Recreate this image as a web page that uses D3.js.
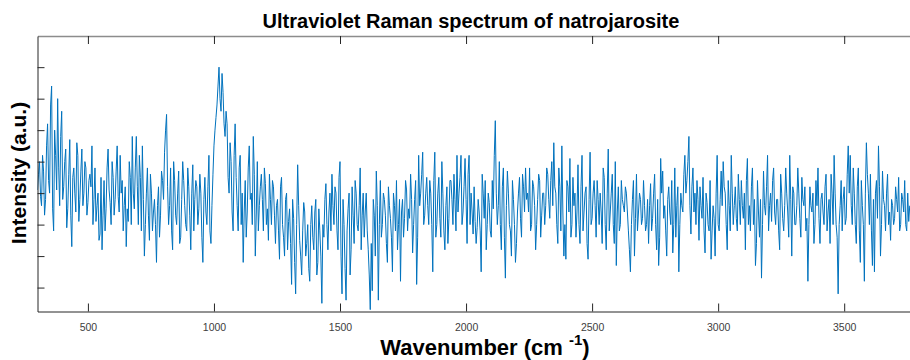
<!DOCTYPE html>
<html>
<head>
<meta charset="utf-8">
<script src="https://cdn.jsdelivr.net/npm/d3@7"></script>
<style>
  body { margin: 0; background: #fff; }
  svg { display: block; font-family: "Liberation Sans", Arial, sans-serif; }
</style>
</head>
<body>
<svg id="chart" width="910" height="360"></svg>
<script>
// each band has its samples on the 8 cm-1 grid and the ones half a step later.
var wnStart = 300, wnStep = 8;

var band300 = [41,50,36,47,38,62,40,74,28,52,70,36,66,42,54,35,57,23,48,34,52,38,54,40,48,37,46,55,38,31,40,27,22,44,35,54,37,50,33,47,39,52,44,36,23,31,45,58,35];
var band300b = [46,39,52,33,55,44,68,35,60,41,48,58,38,50,29,46,33,45,40,56,31,47,36,50,33,44,42,30,48,36,25,45,33,28,48,41,30,45,38,55,34,40,28,42,35,50,30,40,48];
var band692 = [58,30,45,55,20,40,33,46,28,38,18,42,33,44,53,65,30,48,22,44,30,47,26,50,36,28,42,22,49,38,42,35,40,18,45,30,52,24,46,60,68,80,66,72,58,62,40,50,28];
var band692b = [42,52,28,38,30,48,25,40,34,30,36,26,47,38,60,42,36,28,50,33,40,24,38,44,30,48,33,40,28,44,30,46,26,38,34,42,28,36,55,64,74,70,78,62,66,45,56,34,52];
var band1084 = [62,36,48,30,18,44,34,55,40,58,20,50,36,46,28,43,35,46,30,42,24,38,19,45,26,38,22,35,11,32,8,49,25,14,37,20,30,12,36,22,38,18,28,5,26,43,22,40];
var band1084b = [45,28,52,40,34,26,48,38,30,46,34,28,42,38,48,30,25,38,44,33,36,28,42,30,20,40,31,24,38,18,30,36,20,28,34,24,16,30,26,34,14,35,20,30,38,30,34,28];
var band1468 = [46,30,40,22,50,8,30,6,35,14,42,24,40,28,48,33,26,40,22,3,9,33,47,6,44,30,38,24,42,32,15,36,44,30,12,38,32,41,35,46,21,38,11,52,40,53,33,45,30];
var band1468b = [36,42,28,45,20,38,16,28,40,22,33,44,30,36,22,40,34,28,14,24,38,20,36,30,26,40,33,18,36,26,40,28,22,38,34,26,44,28,32,38,30,44,26,36,46,30,40,36,44];
var band1860 = [40,15,53,30,45,26,40,22,42,32,44,30,38,52,40,52,34,51,24,52,40,27,31,29,34,15,40,44,30,37,26,35,63,30,50,22,48,13,47,30,20,38,18,34,45,26,42,48];
var band1860b = [30,44,26,40,32,50,28,36,24,44,38,46,28,34,45,30,42,38,46,30,34,42,24,38,28,46,32,22,40,28,44,52,40,36,30,42,26,36,40,28,44,30,24,40,32,46,34,38];
var band2244 = [40,48,30,42,22,38,44,33,40,36,46,32,50,56,40,24,42,55,20,19,42,51,30,36,26,49,24,52,34,42,19,53,32,44,26,38,40,24,45,22,54,34,46,24,17,42,30,38,34];
var band2244b = [34,28,44,36,30,46,26,40,30,48,38,44,36,42,30,48,28,34,30,44,34,26,45,40,34,30,42,28,40,24,38,30,40,36,44,30,34,48,30,40,28,40,30,50,34,28,44,36,42];
var band2636 = [40,28,15,38,20,46,34,38,32,36,30,24,43,32,46,22,17,51,47,36,20,42,30,21,48,36,15,40,34,52,44,58,27,48,40,44,25,36,45,21,37,28,19,36,20,52,28,47,50];
var band2636b = [34,22,30,44,32,28,40,30,44,28,38,36,28,40,30,38,26,40,32,28,38,34,44,30,26,42,30,36,46,40,50,36,42,34,30,38,42,32,28,40,30,44,28,32,40,30,38,36,42];
var band3028 = [40,22,36,52,30,42,28,38,44,32,22,51,36,42,30,17,44,26,13,47,33,52,36,31,48,30,38,22,40,28,48,34,52,20,40,30,48,32,45,36,28,12,42,34,24,44,48,24];
var band3028b = [30,44,28,40,36,32,46,30,36,40,44,30,28,48,38,24,34,38,30,36,42,28,40,44,34,38,28,46,32,36,40,26,38,42,30,36,40,26,38,42,32,30,36,40,30,36,32,38];
var band3412 = [40,30,46,34,24,40,52,30,8,36,28,42,32,55,52,30,40,24,48,18,36,12,56,40,46,17,15,44,55,20,47,36,40,30,25,36,32,38,45,30,38,44,28,31];
var band3412b = [34,42,28,38,46,30,40,26,30,44,38,30,46,40,36,48,30,42,28,44,30,40,46,30,28,38,40,32,42,30,38,28,46,34,38,30,42,34,28,40,34,30,40,36];

var xTicks = [500, 1000, 1500, 2000, 2500, 3000, 3500];
var yTicks = [10, 20, 30, 40, 50, 60, 70, 80];

var onGrid = [].concat(band300, band692, band1084, band1468, band1860, band2244, band2636, band3028, band3412);
var halfStep = [].concat(band300b, band692b, band1084b, band1468b, band1860b, band2244b, band2636b, band3028b, band3412b);

var spectrum = [];
onGrid.forEach(function(v, i){
  spectrum.push({wn: wnStart + i * wnStep, v: v});
  spectrum.push({wn: wnStart + i * wnStep + wnStep / 2, v: halfStep[i]});
});

var svg = d3.select('#chart');
var plotLeft = 37.5, plotRight = 911, plotTop = 36, plotBottom = 311.5;

var x = d3.scaleLinear().domain([300, 3765]).range([plotLeft, plotRight]);
var y = d3.scaleLinear().domain([2.4, 89.9]).range([plotBottom, plotTop]);

svg.append('clipPath').attr('id', 'plotclip')
   .append('rect').attr('x', plotLeft).attr('y', plotTop)
   .attr('width', plotRight - plotLeft).attr('height', plotBottom - plotTop);

// the trace
var line = d3.line().x(function(d){ return x(d.wn); }).y(function(d){ return y(d.v); });
svg.append('path')
   .datum(spectrum)
   .attr('clip-path', 'url(#plotclip)')
   .attr('d', line)
   .attr('fill', 'none')
   .attr('stroke', '#0072BD')
   .attr('stroke-width', 1)
   .attr('stroke-linejoin', 'miter');

// axes, matlab style: ticks pointing inward, box all round
var axisColor = '#262626';

var gBottom = svg.append('g').attr('transform', 'translate(0,' + plotBottom + ')')
   .call(d3.axisBottom(x).tickValues(xTicks).tickSizeInner(-8).tickSizeOuter(0).tickPadding(12).tickFormat(d3.format('d')));
var gTop = svg.append('g').attr('transform', 'translate(0,' + plotTop + ')')
   .call(d3.axisTop(x).tickValues(xTicks).tickSizeInner(-8).tickSizeOuter(0).tickFormat(''));
var gLeft = svg.append('g').attr('transform', 'translate(' + plotLeft + ',0)')
   .call(d3.axisLeft(y).tickValues(yTicks).tickSizeInner(-7).tickSizeOuter(0).tickFormat(''));

[gBottom, gTop, gLeft].forEach(function(g){
  g.selectAll('.domain').attr('stroke', axisColor);
  g.selectAll('.tick line').attr('stroke', axisColor);
});
gTop.selectAll('.domain').attr('stroke', '#8c8c8c').attr('stroke-width', 1.5);
gBottom.selectAll('.tick text')
   .attr('fill', '#404040')
   .attr('font-size', '10.5px');

// title and labels
svg.append('text')
   .attr('x', 471).attr('y', 28)
   .attr('text-anchor', 'middle')
   .attr('font-size', '20px').attr('font-weight', 'bold')
   .attr('fill', '#000')
   .text('Ultraviolet Raman spectrum of natrojarosite');

var xl = svg.append('text')
   .attr('x', 485).attr('y', 355)
   .attr('text-anchor', 'middle')
   .attr('font-size', '22px').attr('font-weight', 'bold')
   .attr('fill', '#000');
xl.append('tspan').text('Wavenumber (cm ');
xl.append('tspan').attr('font-size', '15px').attr('dy', -10).text('-1');
xl.append('tspan').attr('dy', 10).text(')');

svg.append('text')
   .attr('transform', 'translate(26,173) rotate(-90)')
   .attr('text-anchor', 'middle')
   .attr('font-size', '21px').attr('font-weight', 'bold')
   .attr('fill', '#000')
   .text('Intensity (a.u.)');
</script>
</body>
</html>
